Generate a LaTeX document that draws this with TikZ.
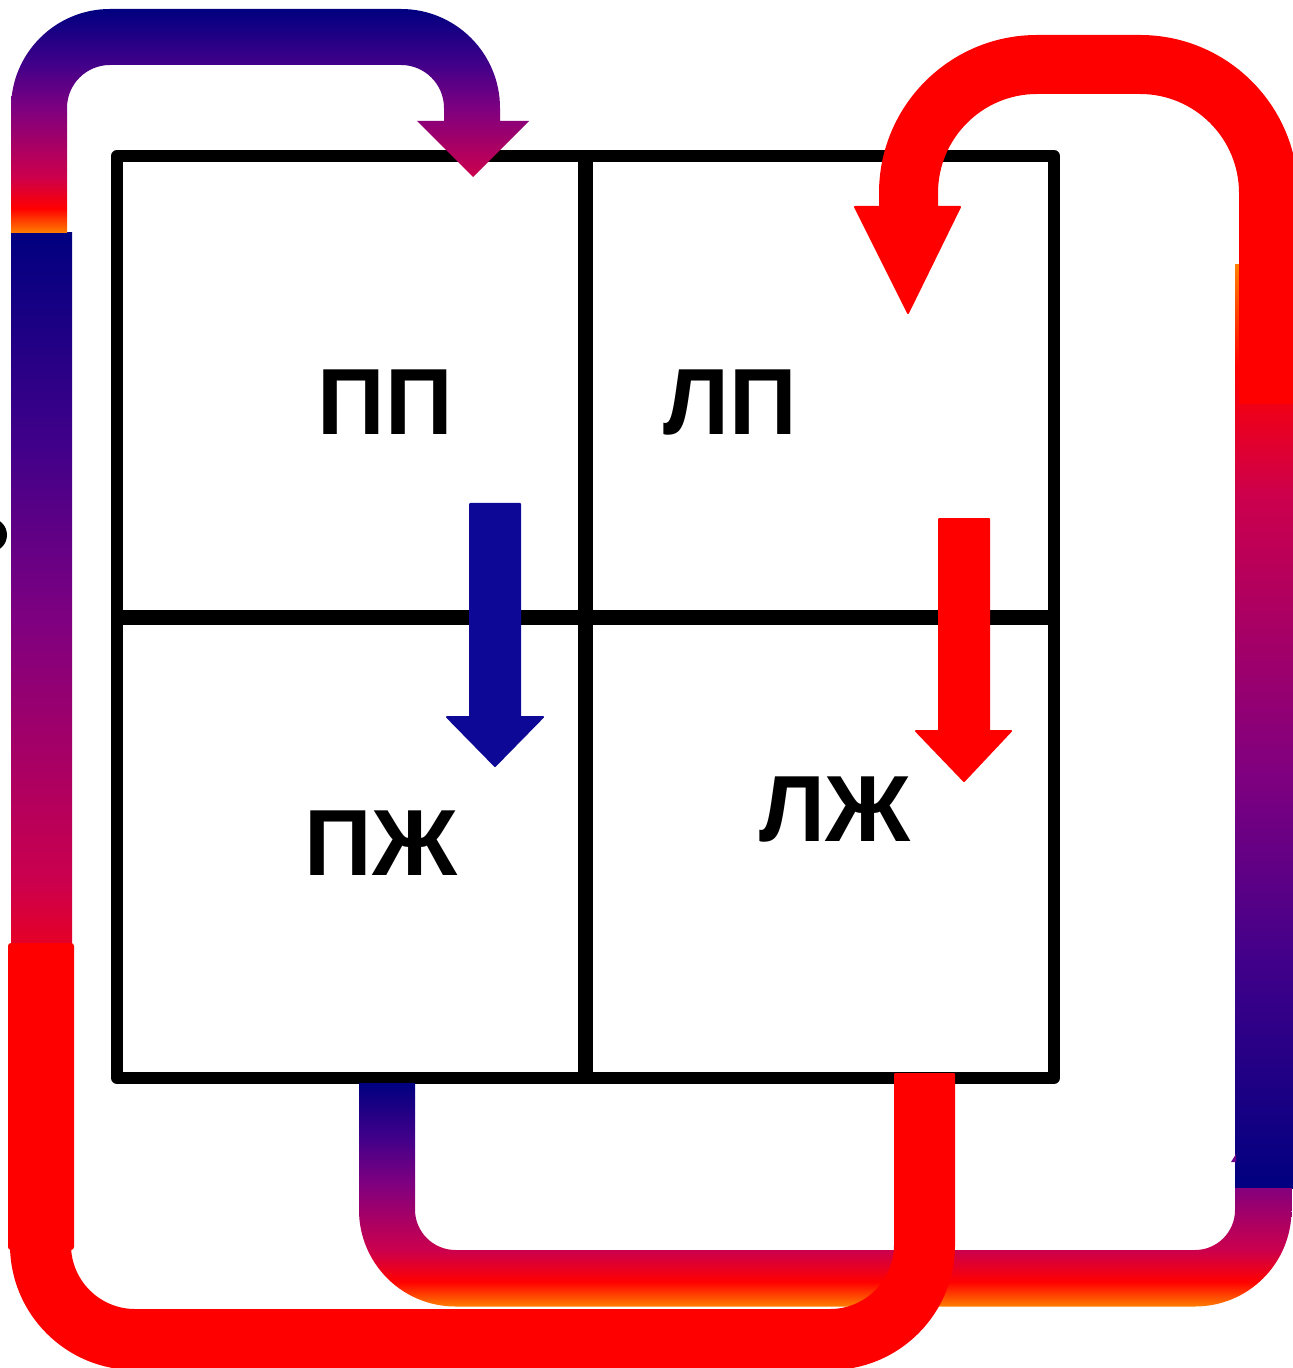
\documentclass[tikz,border=0pt]{standalone}
\usepackage{fontspec}
\setmainfont{Liberation Sans}
\pgfdeclareverticalshading{vgrad}{100bp}{rgb(0bp)=(1,0.5,0); rgb(25bp)=(1,0.5,0); rgb(30.5bp)=(1,0,0); rgb(37.5bp)=(0.8,0,0.3); rgb(52.5bp)=(0.5,0,0.5); rgb(62.5bp)=(0.26,0,0.54); rgb(75bp)=(0,0,0.5); rgb(100bp)=(0,0,0.5)}
\pgfdeclareverticalshading{vgradrev}{100bp}{rgb(0bp)=(0,0,0.5); rgb(25bp)=(0,0,0.5); rgb(37.5bp)=(0.26,0,0.54); rgb(47.5bp)=(0.5,0,0.5); rgb(62.5bp)=(0.8,0,0.3); rgb(69.5bp)=(1,0,0); rgb(75bp)=(1,0.5,0); rgb(100bp)=(1,0.5,0)}
\definecolor{arrblue}{RGB}{13,8,150}
\definecolor{pipered}{RGB}{255,0,0}
\definecolor{smallpurple}{RGB}{110,0,140}
\begin{document}
\begin{tikzpicture}[x=0.5pt,y=-0.5pt,
  boxline/.style={line width=6pt, line join=round, line cap=round},
  divline/.style={line width=7.5pt},
  lbl/.style={inner sep=0pt, font=\fontsize{47}{50}\selectfont\bfseries},
  solidarr/.style={line width=1pt, line join=round}]
\useasboundingbox (0,0) rectangle (1293,1368);
\fill[white] (0,0) rectangle (1293,1368);
\clip (0,0) rectangle (1293,1368);
% heart box
\draw[boxline] (117,156) rectangle (1054,1078);
\draw[divline] (585.5,156) -- (585.5,1078);
\draw[divline] (117,617) -- (1054,617);
% labels
\node[lbl] (pp) at (385,402.5) {ПП};
\node[lbl] (lp) at (730,403) {ЛП};
\node[lbl] (pzh) at (381,843) {ПЖ};
\node[lbl] (lzh) at (835,810) {ЛЖ};
% small artefacts
\fill[black] (-10,535) circle[radius=17];
% left gradient bar
\shade[shading=vgrad] (11,233) rectangle (72,1100);
% top-left gradient arrow
\shade[shading=vgrad] (11,233) -- (11,108) arc(180:270:99) -- (401,9) arc(270:360:99)
  -- (500,121) -- (529,121) -- (473,177) -- (417,121) -- (444,121) -- (444,108)
  arc(0:-90:43) -- (110,65) arc(270:180:43) -- (67,233) -- cycle;
% right gradient bar
\shade[shading=vgradrev] (1235,265) rectangle (1297,1188);
\fill[smallpurple] (1231,1162) -- (1236,1154) -- (1236,1162) -- cycle;
% bottom gradient U
\shade[shading=vgrad] (359,1083) -- (359,1210) arc(180:90:96.5) -- (1195,1306.5)
  arc(90:0:96.5) -- (1291.5,1188) -- (1235,1188) -- (1235,1210) arc(0:90:40)
  -- (455.5,1250) arc(90:180:40.5) -- (415,1083) -- cycle;
% red lower pipe
\fill[pipered, rounded corners=1.5pt] (8,943) rectangle (74,1250);
\filldraw[pipered, solidarr] (11,1245) arc(180:90:124) -- (830,1369) arc(90:0:124)
  -- (954,1074) -- (895,1074) -- (895,1245) arc(0:90:65) -- (135,1310)
  arc(90:180:65) -- cycle;
% red upper-right arrow
\filldraw[pipered, solidarr] (1297,403) -- (1297,193) arc(0:-90:157) -- (1037,36)
  arc(270:180:157) -- (880,207) -- (855,207) -- (908,313) -- (960,207) -- (937,207)
  -- (937,193) arc(180:270:100) -- (1140,93) arc(270:360:100) -- (1240,403) -- cycle;
% straight arrows
\filldraw[arrblue, solidarr] (470,504) -- (520,504) -- (520,717) -- (543,717)
  -- (495,766) -- (447,717) -- (470,717) -- cycle;
\filldraw[pipered, solidarr] (939,519) -- (989,519) -- (989,731) -- (1011,731)
  -- (964,781) -- (916,731) -- (939,731) -- cycle;
\end{tikzpicture}
\end{document}
